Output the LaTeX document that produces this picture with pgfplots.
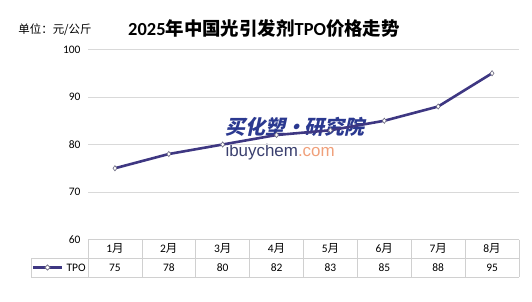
\documentclass[border=0pt]{standalone}
\usepackage{pgfplots}
\pgfplotsset{compat=1.18}
\usepackage{pgfplotstable}
\usetikzlibrary{shapes.geometric}
\usepackage{fontspec}
\setmainfont{Carlito}
\newfontfamily\cjk{Noto Sans CJK SC}
\newfontfamily\cjkwm{Noto Sans CJK SC}[FakeSlant=0.22]
\newfontfamily\wmfont{Liberation Sans}

\definecolor{tpoline}{HTML}{3E3782}
\definecolor{gridgray}{HTML}{D9D9D9}
\definecolor{tablegray}{HTML}{D0D0D0}
\definecolor{wmblue}{HTML}{2B3990}
\definecolor{wmdark}{HTML}{3A3F6E}
\definecolor{wmorange}{HTML}{F0A07A}

\pgfplotstableread{
idx price
0 75
1 78
2 80
3 82
4 83
5 85
6 88
7 95
}\tpodata

\begin{document}
\begin{tikzpicture}[x=1bp,y=1bp]
\useasboundingbox (0,0) rectangle (532,301);

% watermark behind the plot
\node[font={\cjkwm\bfseries\fontsize{20}{22}\selectfont}, text=wmblue] at (295,174) {买化塑·研究院};
\node[font={\wmfont\fontsize{17}{19}\selectfont}, anchor=west] at (222,149)
  {\textcolor{wmdark}{ibuychem}\textcolor{wmorange}{.com}};

% titles
\node[font={\bfseries\fontsize{18.5}{21}\selectfont}] at (264,273)
  {2025{\cjk\bfseries 年中国光引发剂}TPO{\cjk\bfseries 价格走势}};
\node[font={\cjk\fontsize{11.5}{13}\selectfont}] at (55,271) {单位：元/公斤};

\begin{axis}[
  at={(88bp,61.5bp)}, anchor=south west,
  scale only axis, width=431bp, height=190bp,
  xmin=-0.5, xmax=7.5, ymin=60, ymax=100,
  ytick={60,70,80,90,100},
  ymajorgrids, grid style={gridgray, line width=0.8pt},
  axis line style={draw=none},
  major tick length=0pt,
  xtick={0,...,7},
  xticklabels={1{\cjk 月},2{\cjk 月},3{\cjk 月},4{\cjk 月},5{\cjk 月},6{\cjk 月},7{\cjk 月},8{\cjk 月}},
  x tick label style={font=\fontsize{11.5}{13}\selectfont, anchor=center, yshift=-9.3bp},
  extra x ticks={0,...,7},
  extra x tick labels={75,78,80,82,83,85,88,95},
  extra x tick style={grid=none, tick label style={font=\fontsize{11.5}{13}\selectfont, anchor=center, yshift=-18.6bp}},
  y tick label style={font=\fontsize{11.5}{13}\selectfont, xshift=-4bp},
  /pgf/number format/assume math mode=true,
  clip=false,
]
\addplot[tpoline, line width=2.6bp, mark=diamond*, mark size=2.6bp,
  mark options={fill=white, draw=gray!70!tpoline, line width=0.6bp}]
  table[x=idx, y=price] {\tpodata};
\end{axis}

% data table borders
\begin{scope}[draw=tablegray, line width=0.7pt]
  \draw (88,61.5) -- (519,61.5);
  \draw (31,43) -- (519,43);
  \draw (31,24) -- (519,24);
  \draw (31,43) -- (31,24);
  \foreach \k in {0,...,8} { \draw (88+\k*53.875,61.5) -- (88+\k*53.875,24); }
\end{scope}
% legend key
\draw[tpoline, line width=2.6bp] (33,33.5) -- (62,33.5);
\node[diamond, draw=gray!70!tpoline, fill=white, line width=0.6bp, inner sep=0pt,
  minimum width=5.5bp, minimum height=5.5bp] at (47.5,33.5) {};
\node[font=\fontsize{11.5}{13}\selectfont, anchor=west] at (63,33.5) {TPO};
\end{tikzpicture}
\end{document}
